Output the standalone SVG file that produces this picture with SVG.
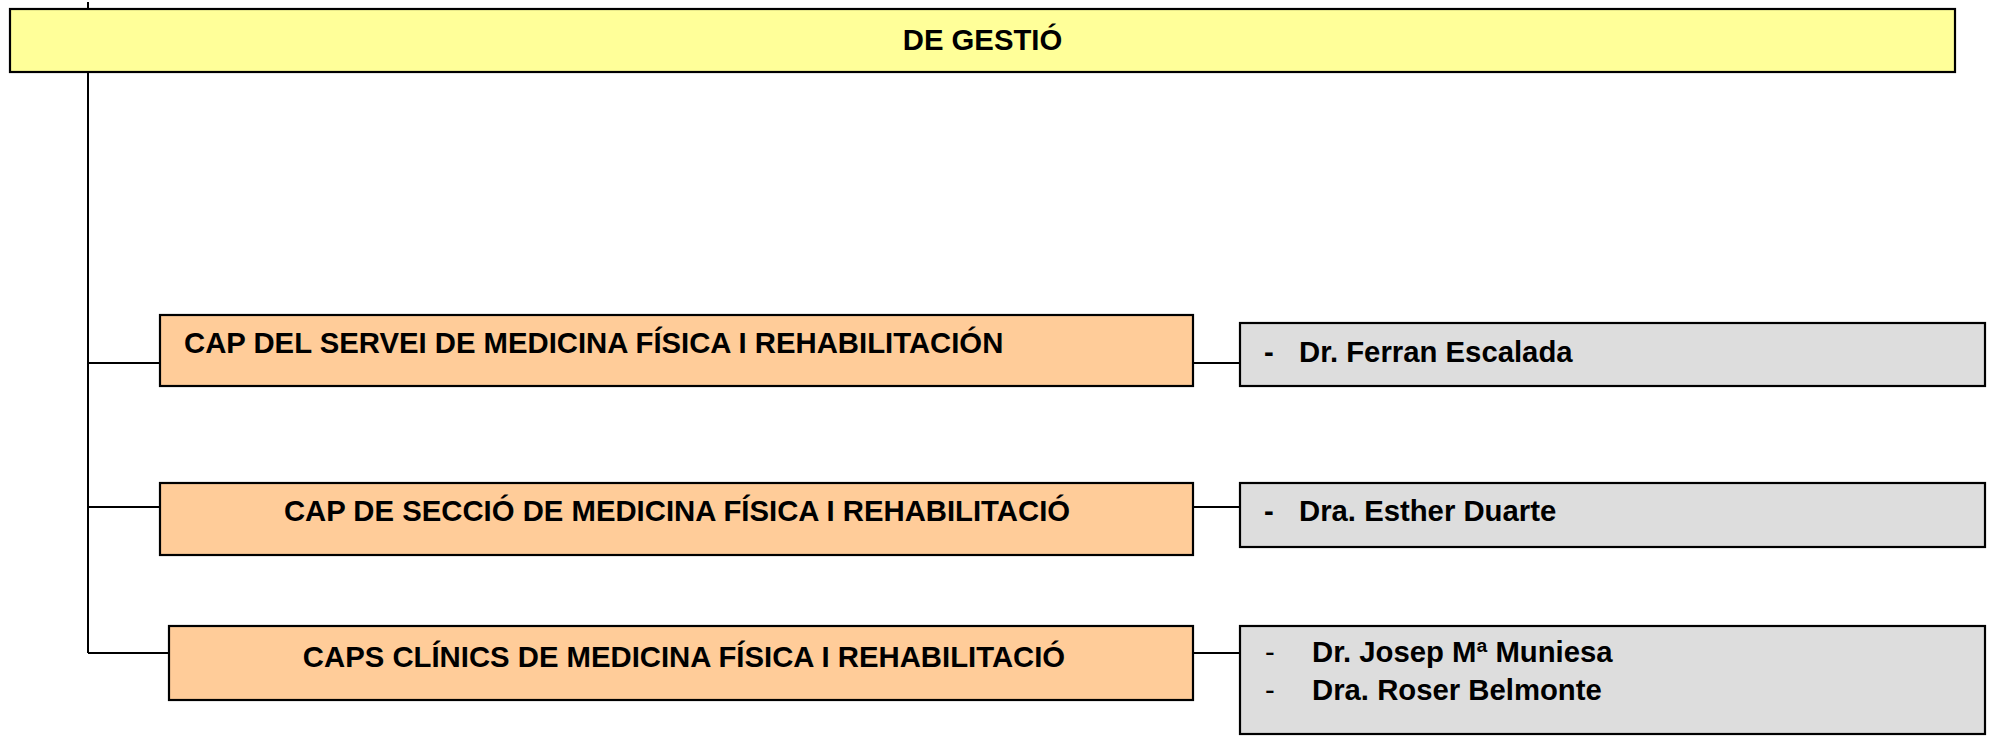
<svg xmlns="http://www.w3.org/2000/svg" width="1991" height="739" viewBox="0 0 1991 739">
<style>
.box{stroke:#000;stroke-width:2.2}
.y{fill:#FFFF99}
.o{fill:#FFCC99}
.g{fill:#DDDDDD}
.c{stroke:#000;stroke-width:2;fill:none}
text{font-family:"Liberation Sans",Arial,sans-serif;font-size:29.3px;font-weight:bold;fill:#000}
.m{text-anchor:middle}
.r{font-weight:normal}
</style>
<rect width="1991" height="739" fill="#fff"/>
<g id="connectors">
<path class="c" d="M88,2 V653"/>
<path class="c" d="M88,363 H160 M1193,363 H1240"/>
<path class="c" d="M88,507 H160 M1193,507 H1240"/>
<path class="c" d="M88,653 H169 M1193,653 H1240"/>
</g>
<g id="gestio">
<rect class="box y" x="10" y="9" width="1945" height="63"/>
<text class="m" x="982.5" y="50">DE GESTIÓ</text>
</g>
<g id="cap-servei">
<rect class="box o" x="160" y="315" width="1033" height="71"/>
<text x="184" y="353">CAP DEL SERVEI DE MEDICINA FÍSICA I REHABILITACIÓN</text>
</g>
<g id="cap-servei-nom">
<rect class="box g" x="1240" y="323" width="745" height="63"/>
<text x="1264" y="362">-</text>
<text x="1299" y="362">Dr. Ferran Escalada</text>
</g>
<g id="cap-seccio">
<rect class="box o" x="160" y="483" width="1033" height="72"/>
<text class="m" x="677" y="521">CAP DE SECCIÓ DE MEDICINA FÍSICA I REHABILITACIÓ</text>
</g>
<g id="cap-seccio-nom">
<rect class="box g" x="1240" y="483" width="745" height="64"/>
<text x="1264" y="521">-</text>
<text x="1299" y="521">Dra. Esther Duarte</text>
</g>
<g id="caps-clinics">
<rect class="box o" x="169" y="626" width="1024" height="74"/>
<text class="m" x="684" y="667">CAPS CLÍNICS DE MEDICINA FÍSICA I REHABILITACIÓ</text>
</g>
<g id="caps-clinics-noms">
<rect class="box g" x="1240" y="626" width="745" height="108"/>
<text class="r" x="1265" y="662">-</text>
<text x="1312" y="662">Dr. Josep Mª Muniesa</text>
<text class="r" x="1265" y="700">-</text>
<text x="1312" y="700">Dra. Roser Belmonte</text>
</g>
</svg>
